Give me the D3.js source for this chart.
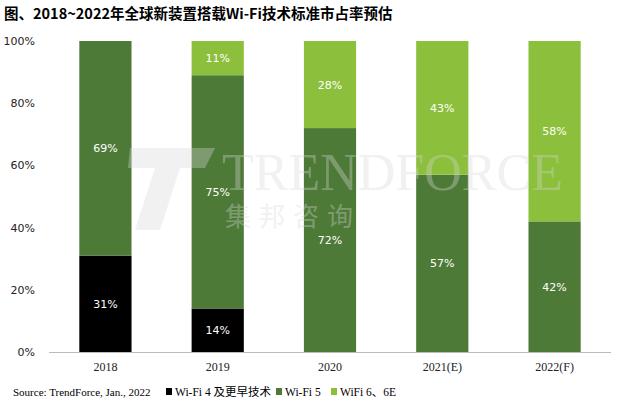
<!DOCTYPE html><html><head><meta charset="utf-8">
<script src="https://cdn.jsdelivr.net/npm/d3@7"></script>
<style>body{margin:0;background:#fff}</style></head><body>
<svg id="c" width="626" height="407"></svg>
<script>
const categories=["2018","2019","2020","2021(E)","2022(F)"];
const seriesNames=["Wi-Fi 4 及更早技术","Wi-Fi 5","WiFi 6、6E"];
const wifi4=[31,14,0,0,0];
const wifi5=[69,75,72,57,42];
const wifi6=[0,11,28,43,58];
const yTicks=[0,20,40,60,80,100];
const colors=["#000000","#4e7a38","#8cbf3c"];
const svg=d3.select("#c");
const x=d3.scaleBand().domain(categories).range([49,611]).paddingInner(0.535).paddingOuter(0.27);
const y=d3.scaleLinear().domain([0,100]).range([352,41]);
const serif="'Liberation Serif','Times New Roman',serif";
svg.append("text").attr("x",4).attr("y",19).attr("font-family","'Noto Sans CJK SC',"+serif).attr("font-weight","bold").attr("font-size",14.5).text("图、2018~2022年全球新装置搭载Wi-Fi技术标准市占率预估");
const data=[wifi4,wifi5,wifi6];
const stack=categories.map((c,i)=>{let b=0;return data.map((s,k)=>{const r={c,k,v:s[i],y0:b,y1:b+s[i]};b+=s[i];return r;});}).flat().filter(d=>d.v>0);
svg.selectAll("rect.b").data(stack).join("rect").attr("x",d=>x(d.c)).attr("width",x.bandwidth()).attr("y",d=>y(d.y1)).attr("height",d=>y(d.y0)-y(d.y1)).attr("fill",d=>colors[d.k]);
// watermark on top, translucent
const wm=svg.append("g").attr("opacity",0.35).attr("fill","#d8d8d8");
wm.append("path").attr("d","M130 148 L215 148 L205 168 L180 168 L160 230 L135 230 L155 168 L128 168 Z");
wm.append("text").attr("x",222).attr("y",190).attr("font-family",serif).attr("font-size",52).text("TRENDFORCE");
wm.append("text").attr("x",225).attr("y",226).attr("font-family","'Noto Sans CJK SC'").attr("font-size",26).attr("letter-spacing",8).text("集邦咨询");
svg.selectAll("text.l").data(stack).join("text").attr("x",d=>x(d.c)+x.bandwidth()/2).attr("y",d=>y((d.y0+d.y1)/2)+4).attr("text-anchor","middle").attr("fill","#fff").attr("font-family","'DejaVu Sans',sans-serif").attr("font-size",11).text(d=>d.v+"%");
const ya=svg.append("g").attr("transform","translate(38,0)").call(d3.axisLeft(y).tickValues(yTicks).tickFormat(d=>d+"%").tickSize(0));
ya.select(".domain").remove();
ya.selectAll("text").attr("font-family","'DejaVu Sans',sans-serif").attr("font-size",11).attr("fill","#222");
svg.append("line").attr("x1",49).attr("x2",611).attr("y1",352.5).attr("y2",352.5).attr("stroke","#bbb");
const xa=svg.append("g").attr("transform","translate(0,352)").call(d3.axisBottom(x).tickSize(0).tickPadding(10));
xa.select(".domain").remove();
xa.selectAll("text").attr("font-family",serif).attr("font-size",12).attr("fill","#222");
svg.append("text").attr("x",13).attr("y",396).attr("font-family",serif).attr("font-size",11).text("Source: TrendForce, Jan., 2022");
const lx=[166,276,331];
seriesNames.forEach((n,i)=>{svg.append("rect").attr("x",lx[i]).attr("y",388).attr("width",6).attr("height",7).attr("fill",colors[i]);
svg.append("text").attr("x",lx[i]+9).attr("y",396).attr("font-family",serif+",'Noto Sans CJK SC'").attr("font-size",11.5).text(n);});
</script></body></html>
